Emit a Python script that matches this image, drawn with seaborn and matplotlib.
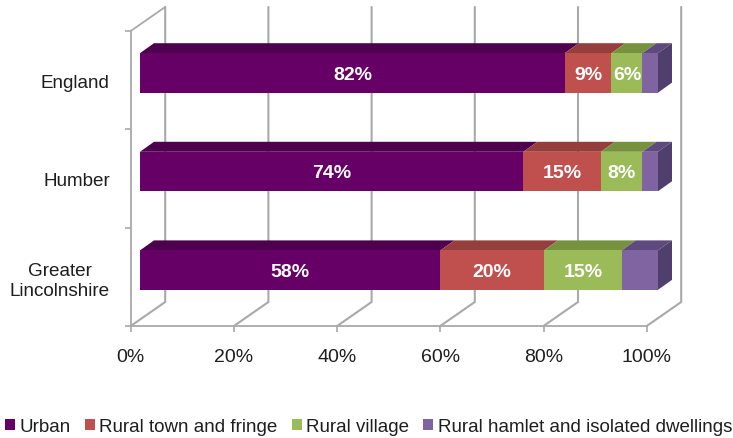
import matplotlib
matplotlib.use("Agg")
import matplotlib.pyplot as plt
import pandas as pd
import seaborn as sns
from matplotlib.patches import Polygon

# Share of population by settlement type
areas = ["England", "Humber", "Greater\nLincolnshire"]
urban = [82, 74, 58]
town_fringe = [9, 15, 20]
village = [6, 8, 15]
hamlet = [3, 3, 7]
series_names = ["Urban", "Rural town and fringe", "Rural village",
                "Rural hamlet and isolated dwellings"]
series_values = [urban, town_fringe, village, hamlet]
front_colors = ["#660066", "#C0504D", "#9BBB59", "#8064A2"]
top_colors = ["#4E004F", "#953F3C", "#76923F", "#5F4A80"]
side_color = "#503E6C"
labelled_series = 3
x_ticks = [0, 20, 40, 60, 80, 100]

W, H = 733, 439
GRID = "#A9A9A9"
TEXT = "#1E1E1E"
sns.set_theme(style="white")
plt.rcParams["font.family"] = ["Liberation Sans", "DejaVu Sans"]


def px_axes(fig, left, right, top, bottom):
    return fig.add_axes([left / W, 1 - bottom / H, (right - left) / W, (bottom - top) / H])


fig = plt.figure(figsize=(W / 100, H / 100), dpi=100, facecolor="white")

# Wall and floor of the box
frame = px_axes(fig, 130.7, 646.7, 32, 327)
frame.set_xlim(0, 100)
frame.set_ylim(2.5, -0.5)
frame.set_facecolor("none")
wall_dx = 34.5 / 5.16
wall_dy = 24 / (295 / 3)
for v in x_ticks:
    frame.plot([v, v + wall_dx, v + wall_dx], [2.5, 2.5 - wall_dy, -0.5 - wall_dy],
               color=GRID, lw=1.5, clip_on=False, solid_joinstyle="miter")
frame.plot([0, wall_dx], [-0.5, -0.5 - wall_dy], color=GRID, lw=1.3, clip_on=False)
sns.despine(ax=frame, top=True, right=True)
for side in ("left", "bottom"):
    frame.spines[side].set_color(GRID)
    frame.spines[side].set_linewidth(1.3)
frame.set_xticks(x_ticks)
frame.set_xticklabels([f"{v}%" for v in x_ticks], fontsize=14, color=TEXT)
frame.set_yticks(range(len(areas)))
frame.set_yticklabels(areas, fontsize=13.6, color=TEXT, multialignment="center", linespacing=1.25)
frame.set_yticks([-0.5, 0.5, 1.5, 2.5], minor=True)
frame.tick_params(axis="x", length=4, width=1.2, color=GRID, pad=12, bottom=True)
frame.tick_params(axis="y", which="major", length=0, pad=15)
frame.tick_params(axis="y", which="minor", length=4, width=1.2, color=GRID, left=True)

# Stacked bars: cumulative totals drawn longest first, so each shorter one overlays the last
rows = []
for i, area in enumerate(areas):
    total = 0
    for name, values in zip(series_names, series_values):
        total += values[i]
        rows.append({"area": area, "series": name, "cumulative": total})
long_df = pd.DataFrame(rows)

ax = px_axes(fig, 140, 658, 24.6, 320.4)
ax.set_facecolor("none")
BAR_H = 0.4
sns.barplot(data=long_df, y="area", x="cumulative", hue="series",
            hue_order=series_names[::-1], palette=dict(zip(series_names, front_colors)),
            order=areas, dodge=False, width=BAR_H, saturation=1, legend=False,
            linewidth=0, ax=ax, zorder=3)
ax.set_xlim(0, 100)
ax.set_ylim(2.5, -0.5)
ax.axis("off")

# Bevelled top and right faces of each bar
depth_x = 14 / 5.18
depth_y = 10 / 98.75
for i in range(len(areas)):
    y0 = i - BAR_H / 2
    y1 = i + BAR_H / 2
    left = 0
    for values, shade in zip(series_values, top_colors):
        right = left + values[i]
        ax.add_patch(Polygon([(left, y0), (right, y0), (right + depth_x, y0 - depth_y),
                              (left + depth_x, y0 - depth_y)],
                             closed=True, fc=shade, ec="none", clip_on=False, zorder=2))
        left = right
    ax.add_patch(Polygon([(left, y0), (left + depth_x, y0 - depth_y),
                          (left + depth_x, y1 - depth_y), (left, y1)],
                         closed=True, fc=side_color, ec="none", clip_on=False, zorder=2))

    # Percent labels centred on the front faces
    left = 0
    for values in series_values[:labelled_series]:
        ax.text(left + values[i] / 2, i + 0.015, f"{values[i]}%", ha="center", va="center",
                color="white", fontsize=14, fontweight="bold", zorder=5)
        left += values[i]

# Legend row along the bottom edge
handles = [plt.Rectangle((0, 0), 1, 1, fc=c, ec="none") for c in front_colors]
fig.legend(handles, series_names, loc="center left", bbox_to_anchor=(0.0, 1 - 428 / H),
           ncol=4, frameon=False, fontsize=13.5, labelcolor=TEXT, handlelength=0.53,
           handleheight=0.53, handletextpad=0.26, columnspacing=0.74, borderaxespad=0,
           borderpad=0.25)

fig.savefig("out.png", dpi=100, facecolor="white")
